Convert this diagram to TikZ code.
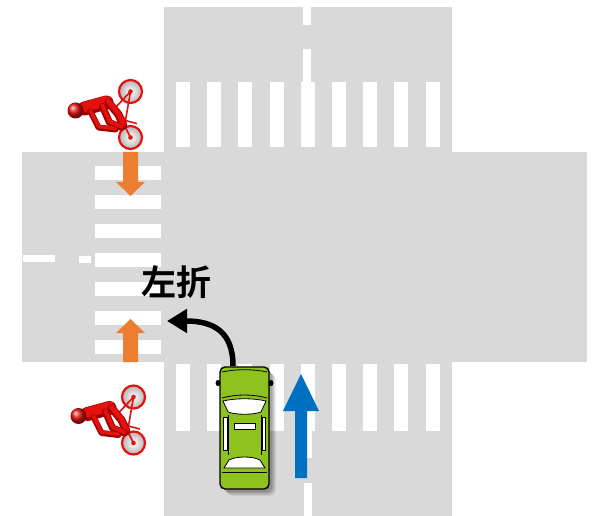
\documentclass[tikz,border=0pt]{standalone}
\usepackage{fontspec}
\newfontfamily\cjkfont{Noto Sans CJK JP}[BoldFont={Noto Sans CJK JP Bold}]
\usetikzlibrary{arrows.meta,shadings}
\definecolor{road}{HTML}{D9D9D9}
\definecolor{walkorange}{HTML}{ED7D31}
\definecolor{goblue}{HTML}{0070C0}
\definecolor{carbody}{HTML}{8DC21F}
\definecolor{riderred}{HTML}{E3120F}
\definecolor{riderdark}{HTML}{A00000}
\tikzset{
  stripe/.style={fill=white},
  arrowshape/.style={draw=none},
  tube/.style={line cap=round, line join=round},
  cyclist/.pic={
    % wheels
    \foreach \wy in {-23,23} {
      \shade[inner color=white, outer color=black!30] (0,\wy) circle (11.5);
      \draw[riderred, line width=2.2pt] (0,\wy) circle (11.5);
      \fill[riderred] (0,\wy) circle (2.3);
    }
    % frame
    \draw[riderred, line width=1.6pt, tube]
      (0,-23) -- (-15,-7) -- (0,23)
      (-15,-7) -- (-5,6) -- (0,-23)
      (-5,6) -- (6,9);
    % rider
    \draw[riderdark, line width=14pt, tube] (-46,-6) -- (-24,-12);
    \draw[riderred, line width=10pt, tube] (-46,-7.5) -- (-24,-13.5);
    \draw[riderdark, line width=8pt, tube] (-22,-12) -- (-12,0) -- (-7,11);
    \draw[riderred, line width=5pt, tube] (-22,-13) -- (-12,-1) -- (-7,10);
    \draw[riderdark, line width=7pt, tube] (-28,-8) -- (-21,8) -- (-9,13);
    \draw[riderred, line width=4pt, tube] (-28,-9) -- (-21,7) -- (-9,12);
    \draw[riderdark, line width=6pt, tube] (-40,-3) -- (-32,13) -- (-15,15);
    \draw[riderred, line width=3.5pt, tube] (-40,-4) -- (-32,12) -- (-15,14);
    \shade[ball color=riderred] (-55,-4) circle (8);
  }
}
\begin{document}
\begin{tikzpicture}[x=1pt,y=-1pt]
\useasboundingbox (0,0) rectangle (595,516);
\fill[white] (0,0) rectangle (595,516);

% road surfaces
\fill[road] (164,7) rectangle (452,516);
\fill[road] (22,152) rectangle (587,362);

% crosswalks
\foreach \x in {176,207,238,270,301,332,363,394,426}
  \fill[stripe] (\x,82) rectangle ++(14,65);
\foreach \x in {176,207,238,270,301,332,363,394,426}
  \fill[stripe] (\x,364) rectangle ++(14,67);
\foreach \y in {166,195,224,253,282,311,340}
  \fill[stripe] (95,\y) rectangle ++(66,14);

% centre line
\fill[stripe] (303,7) rectangle (311,25);
\fill[stripe] (303,49) rectangle (311,82);
\fill[stripe] (304,431) rectangle (312,458);
\fill[stripe] (304,483) rectangle (312,516);
\fill[stripe] (23,255) rectangle (55,262);
\fill[stripe] (79,256) rectangle (91,263);

% cyclists' directions
\fill[walkorange, arrowshape] (123,152) -- (138,152) -- (138,182) -- (145,182)
  -- (130.5,196) -- (116,182) -- (123,182) -- cycle;
\fill[walkorange, arrowshape] (123,362) -- (138,362) -- (138,333) -- (145,333)
  -- (130.5,319) -- (116,333) -- (123,333) -- cycle;

% straight-ahead arrow
\fill[goblue, arrowshape] (295,478) -- (307,478) -- (307,411) -- (319,411)
  -- (301,374) -- (283,411) -- (295,411) -- cycle;

% cyclists
\pic at (130.5,114.5) {cyclist};
\pic at (133.5,420) {cyclist};

% turning label and arrow
\node[font=\cjkfont\bfseries\fontsize{35}{40}\selectfont, inner sep=0pt] (lbl) at (176,282) {左折};
\coordinate (turnstart) at (233,366);
\coordinate (turnend) at (167,321);
\draw[line width=5.5pt, -{Triangle[length=20pt,width=23pt]}]
  (turnstart) .. controls (233,332) and (214,321) .. (turnend);

% car shadow
\foreach \d/\o in {7/0.06,6/0.07,5/0.08,4/0.09,3/0.1}
  \fill[black, opacity=\o, rounded corners=6pt] (220+\d,367+\d) rectangle (269+\d,489+\d);

% car body
\fill[carbody, draw=black, line width=1.4pt, rounded corners=5pt] (220,367) rectangle (269,489);
\draw[black, line width=0.8pt] (222,372) .. controls (235,369) and (254,369) .. (267,372);
\fill[black] (218,383) ellipse (2.5 and 3);
\fill[black] (271,383) ellipse (2.5 and 3);
\draw[black, line width=0.8pt] (222,398) .. controls (236,394) and (253,394) .. (267,398);
% windscreen
\fill[white, draw=black, line width=0.8pt] (223,401) .. controls (236,398) and (253,398) .. (266,401)
  -- (261,412) .. controls (253,415) and (236,415) .. (228,412) -- cycle;
% side windows
\fill[white, draw=black, line width=0.6pt] (223.5,417) rectangle (227,450);
\fill[white, draw=black, line width=0.6pt] (262,417) rectangle (265.5,450);
\draw[black, line width=0.6pt] (228,415) -- (228,455) (261,415) -- (261,455);
% roof sign
\fill[white, draw=black, line width=0.9pt] (234,423) rectangle (255,429);
% rear window
\fill[white, draw=black, line width=0.8pt] (229,460) .. controls (237,456) and (252,456) .. (260,460)
  -- (265,468) -- (224,468) -- cycle;
\draw[black, line width=0.8pt] (222,472) -- (267,472);

\end{tikzpicture}
\end{document}
